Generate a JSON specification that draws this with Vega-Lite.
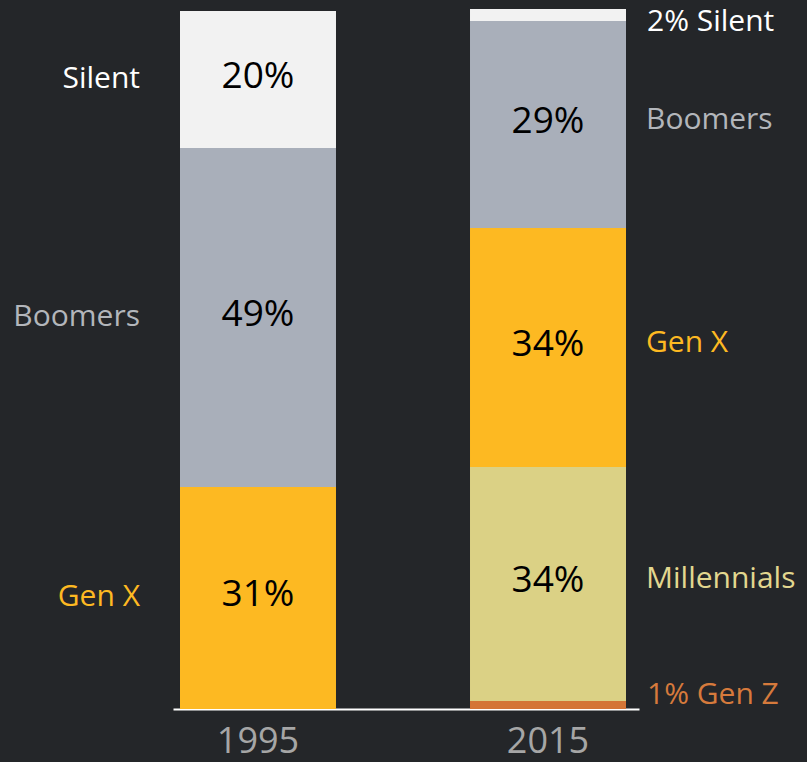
{
  "$schema": "https://vega.github.io/schema/vega-lite/v6.json",
  "width": 466,
  "height": 700,
  "autosize": {"type": "none"},
  "padding": {"left": 173, "right": 168, "top": 9, "bottom": 53},
  "background": "#242629",
  "config": {"view": {"stroke": null}, "font": "Open Sans"},
  "data": {
    "values": [
      {"year": "1995", "gen": "Gen X", "order": 2, "value": 31.71, "pct": "31%", "side": "Gen X"},
      {"year": "1995", "gen": "Boomers", "order": 3, "value": 48.43, "pct": "49%", "side": "Boomers"},
      {"year": "1995", "gen": "Silent", "order": 4, "value": 19.57, "pct": "20%", "side": "Silent"},
      {"year": "2015", "gen": "Gen Z", "order": 0, "value": 1.14, "pct": "", "side": "1% Gen Z"},
      {"year": "2015", "gen": "Millennials", "order": 1, "value": 33.43, "pct": "34%", "side": "Millennials"},
      {"year": "2015", "gen": "Gen X", "order": 2, "value": 34.14, "pct": "34%", "side": "Gen X"},
      {"year": "2015", "gen": "Boomers", "order": 3, "value": 29.57, "pct": "29%", "side": "Boomers"},
      {"year": "2015", "gen": "Silent", "order": 4, "value": 1.71, "pct": "", "side": "2% Silent"}
    ]
  },
  "transform": [
    {"stack": "value", "groupby": ["year"], "sort": [{"field": "order"}], "as": ["v0", "v1"]},
    {"calculate": "(datum.v0 + datum.v1) / 2", "as": "mid"}
  ],
  "encoding": {
    "x": {
      "field": "year",
      "type": "nominal",
      "title": null,
      "scale": {"paddingInner": 0.4621, "paddingOuter": 0.03448, "align": 0.35},
      "axis": {
        "domainColor": "#ffffff",
        "domainWidth": 2,
        "ticks": false,
        "grid": false,
        "labelAngle": 0,
        "labelColor": "#a6a6a6",
        "labelFontSize": 36,
        "labelPadding": 15
      }
    }
  },
  "layer": [
    {
      "mark": {"type": "bar"},
      "encoding": {
        "y": {"field": "v0", "type": "quantitative", "scale": {"domain": [0, 100]}, "axis": null},
        "y2": {"field": "v1"},
        "color": {
          "field": "gen",
          "type": "nominal",
          "legend": null,
          "scale": {
            "domain": ["Silent", "Boomers", "Gen X", "Millennials", "Gen Z"],
            "range": ["#f2f2f2", "#a9afba", "#fdb922", "#dbd185", "#d47536"]
          }
        }
      }
    },
    {
      "transform": [{"filter": "datum.pct != ''"}],
      "mark": {"type": "text", "fontSize": 37, "color": "#000000", "dy": -3},
      "encoding": {
        "y": {"field": "mid", "type": "quantitative"},
        "text": {"field": "pct"}
      }
    },
    {
      "transform": [{"filter": "datum.year == '1995'"}],
      "mark": {"type": "text", "fontSize": 30, "align": "right", "dx": -40, "dy": -1},
      "encoding": {
        "x": {"field": "year", "type": "nominal", "bandPosition": 0},
        "y": {"field": "mid", "type": "quantitative"},
        "text": {"field": "side"},
        "color": {
          "field": "gen",
          "type": "nominal",
          "legend": null,
          "scale": {
            "domain": ["Silent", "Boomers", "Gen X", "Millennials", "Gen Z"],
            "range": ["#ffffff", "#b3b6bb", "#fdb922", "#e2d78f", "#d67a3c"]
          }
        }
      }
    },
    {
      "transform": [{"filter": "datum.year == '2015' && datum.gen != 'Silent' && datum.gen != 'Gen Z'"}],
      "mark": {"type": "text", "fontSize": 30, "align": "left", "dx": 20, "dy": -5},
      "encoding": {
        "x": {"field": "year", "type": "nominal", "bandPosition": 1},
        "y": {"field": "mid", "type": "quantitative"},
        "text": {"field": "side"},
        "color": {
          "field": "gen",
          "type": "nominal",
          "legend": null,
          "scale": {
            "domain": ["Silent", "Boomers", "Gen X", "Millennials", "Gen Z"],
            "range": ["#ffffff", "#b3b6bb", "#fdb922", "#e2d78f", "#d67a3c"]
          }
        }
      }
    },
    {
      "transform": [{"filter": "datum.year == '2015' && datum.gen == 'Silent'"}],
      "mark": {"type": "text", "fontSize": 30, "align": "left", "dx": 21, "dy": 7, "color": "#ffffff"},
      "encoding": {
        "x": {"field": "year", "type": "nominal", "bandPosition": 1},
        "y": {"field": "mid", "type": "quantitative"},
        "text": {"field": "side"}
      }
    },
    {
      "transform": [{"filter": "datum.year == '2015' && datum.gen == 'Gen Z'"}],
      "mark": {"type": "text", "fontSize": 30, "align": "left", "dx": 21, "dy": -10, "color": "#d67a3c"},
      "encoding": {
        "x": {"field": "year", "type": "nominal", "bandPosition": 1},
        "y": {"field": "mid", "type": "quantitative"},
        "text": {"field": "side"}
      }
    }
  ],
  "resolve": {"scale": {"color": "independent"}}
}
